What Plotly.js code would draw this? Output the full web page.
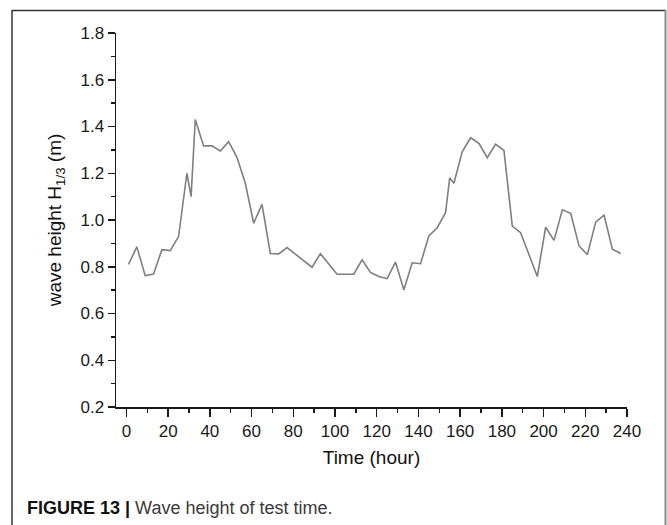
<!DOCTYPE html>
<html>
<head>
<meta charset="utf-8">
<script src="https://cdn.plot.ly/plotly-3.0.1.min.js"></script>
<style>
  html, body { margin: 0; padding: 0; background: #fff; }
  #chart { width: 667px; height: 525px; }
</style>
</head>
<body>
<div id="chart"></div>
<script>
// Time of the test (hours)
const timeHours = [1, 5, 9, 13, 17, 21, 25, 29, 31, 33,
                   37, 41, 45, 49, 53, 57, 61, 65, 69, 73,
                   77, 89, 93, 101, 109, 113, 117, 121, 125, 129,
                   133, 137, 141, 145, 149, 153, 155, 157, 161, 165,
                   169, 173, 177, 181, 185, 189, 197, 201, 205, 209,
                   213, 217, 221, 225, 229, 233, 237];

// Significant wave height H1/3 (m)
const waveHeight = [0.81, 0.885, 0.762, 0.769, 0.873, 0.869, 0.929, 1.20, 1.10, 1.43,
                    1.317, 1.317, 1.295, 1.335, 1.268, 1.157, 0.986, 1.067, 0.857, 0.855,
                    0.882, 0.798, 0.856, 0.768, 0.768, 0.830, 0.776, 0.758, 0.749, 0.820,
                    0.701, 0.817, 0.813, 0.932, 0.967, 1.031, 1.180, 1.157, 1.292, 1.352,
                    1.328, 1.267, 1.324, 1.298, 0.974, 0.946, 0.758, 0.969, 0.913, 1.044,
                    1.029, 0.889, 0.852, 0.991, 1.021, 0.875, 0.857];

const xTickVals = [0, 20, 40, 60, 80, 100, 120, 140, 160, 180, 200, 220, 240];
const yTickVals = [0.2, 0.4, 0.6, 0.8, 1.0, 1.2, 1.4, 1.6, 1.8];
const yTickText = ['0.2', '0.4', '0.6', '0.8', '1.0', '1.2', '1.4', '1.6', '1.8'];

const xAxisTitle = 'Time (hour)';
const yAxisTitle = 'wave height H<sub>1/3</sub> (m)';
const captionText = '<b>FIGURE 13 |</b> <span style="color:#3a3a3a">Wave height of test time.</span>';

// Plot-area geometry in pixels
const W = 667, H = 525;
const M = { l: 116, r: 40, t: 33, b: 118 };
const plotW = W - M.l - M.r;
const plotH = H - M.t - M.b;
const px = x => (x - M.l) / plotW;           // pixel x -> paper x
const py = y => (H - M.b - y) / plotH;       // pixel y -> paper y

const FONT = 'Liberation Sans, Arial, Helvetica, sans-serif';

const trace = {
  x: timeHours,
  y: waveHeight,
  type: 'scatter',
  mode: 'lines',
  line: { color: '#7f7f7f', width: 1.6 },
  hoverinfo: 'x+y'
};

const axisCommon = {
  showline: true,
  linecolor: '#1a1a1a',
  linewidth: 1.5,
  ticks: 'outside',
  tickcolor: '#1a1a1a',
  tickwidth: 1.5,
  showgrid: false,
  zeroline: false,
  tickfont: { family: FONT, size: 17, color: '#1a1a1a' },
  fixedrange: true
};

const layout = {
  width: W,
  height: H,
  margin: M,
  paper_bgcolor: '#ffffff',
  plot_bgcolor: '#ffffff',
  showlegend: false,
  font: { family: FONT, color: '#1a1a1a' },
  xaxis: Object.assign({}, axisCommon, {
    range: [-5, 240],
    tickmode: 'array',
    tickvals: xTickVals,
    ticklen: 8,
    minor: { dtick: 10, tick0: 0, ticks: 'outside', ticklen: 4, tickcolor: '#1a1a1a', tickwidth: 1.5, showgrid: false },
    title: { text: xAxisTitle, font: { family: FONT, size: 19, color: '#111' }, standoff: 11 }
  }),
  yaxis: Object.assign({}, axisCommon, {
    range: [0.2, 1.8],
    tickmode: 'array',
    tickvals: yTickVals,
    ticktext: yTickText,
    ticklen: 7,
    minor: { dtick: 0.1, tick0: 0.2, ticks: 'outside', ticklen: 4, tickcolor: '#1a1a1a', tickwidth: 1.5, showgrid: false },
    title: { text: yAxisTitle, font: { family: FONT, size: 19, color: '#111' }, standoff: 14 }
  }),
  shapes: [
    // frame around the figure (open at the bottom)
    { type: 'line', xref: 'paper', yref: 'paper', x0: px(12), x1: px(12), y0: py(10), y1: py(540),
      line: { color: '#333', width: 1.5 } },
    { type: 'line', xref: 'paper', yref: 'paper', x0: px(12), x1: px(666), y0: py(10.5), y1: py(10.5),
      line: { color: '#333', width: 1.5 } },
    { type: 'line', xref: 'paper', yref: 'paper', x0: px(665.5), x1: px(665.5), y0: py(10), y1: py(540),
      line: { color: '#8a8a8a', width: 2 } }
  ],
  annotations: [
    { text: captionText, xref: 'paper', yref: 'paper', x: px(25), y: py(508),
      xanchor: 'left', yanchor: 'middle', showarrow: false,
      font: { family: FONT, size: 18, color: '#111' } }
  ]
};

Plotly.newPlot('chart', [trace], layout, { displayModeBar: false, staticPlot: true });
</script>
</body>
</html>
